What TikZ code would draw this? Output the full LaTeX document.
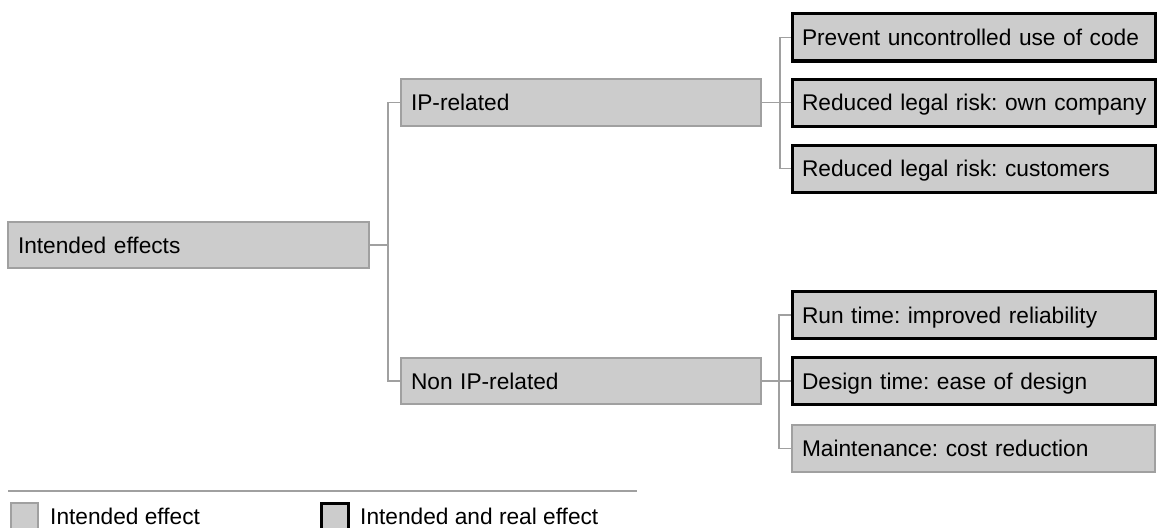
\documentclass[tikz,border=0pt]{standalone}
\usepackage{fontspec}
\setmainfont{Liberation Sans}
\definecolor{boxfill}{HTML}{CCCCCC}
\definecolor{edgegray}{HTML}{A0A0A0}
\begin{document}
\frenchspacing
\begin{tikzpicture}[x=1pt,y=-1pt,
  every node/.style={font=\fontsize{22.7}{27}\selectfont},
  effect/.style={draw=edgegray, line width=1.6pt, fill=boxfill,
    inner xsep=10pt, inner ysep=0pt, text height=16.3pt, text depth=0pt,
    align=left},
  realeffect/.style={effect, draw=black, line width=3pt},
  boxwidth/.style={minimum width=#1, text width=#1-20pt},
  link/.style={draw=edgegray, line width=1.6pt},
  legsq/.style={draw=edgegray, line width=1.6pt, fill=boxfill,
    minimum width=27pt, minimum height=30pt, inner sep=0pt},
  legtext/.style={anchor=base west, inner sep=0pt}]
\useasboundingbox (0,0) rectangle (1158,527);

% root and first level
\node[effect, boxwidth=361pt, minimum height=46pt] (root) at (188.5,245) {\mbox{Intended effects}};
\node[effect, boxwidth=360pt, minimum height=47pt] (ip) at (581,102.5) {\mbox{IP-related}};
\node[effect, boxwidth=360pt, minimum height=46pt] (nonip) at (581,381) {\mbox{Non IP-related}};

% IP-related effects
\node[realeffect, boxwidth=363pt, minimum height=47pt] (c1) at (973.5,37.5) {\mbox{Prevent uncontrolled use of code}};
\node[realeffect, boxwidth=363pt, minimum height=47pt] (c2) at (973.5,102.5) {\mbox{Reduced legal risk: own company}};
\node[realeffect, boxwidth=363pt, minimum height=47pt] (c3) at (973.5,168.5) {\mbox{Reduced legal risk: customers}};

% non IP-related effects
\node[realeffect, boxwidth=363pt, minimum height=47pt] (d1) at (973.5,315) {\mbox{Run time: improved reliability}};
\node[realeffect, boxwidth=363pt, minimum height=47pt] (d2) at (973.5,381) {\mbox{Design time: ease of design}};
\node[effect, boxwidth=363pt, minimum height=47pt] (d3) at (973.5,448.5) {\mbox{Maintenance: cost reduction}};

% junction points of the tree
\coordinate (j1) at (388,245);
\coordinate (j2) at (780,102.5);
\coordinate (j3) at (779,381);

\draw[link] (root.east) -- (j1);
\draw[link] (ip.west) -| (j1) |- (nonip.west);
\draw[link] (ip.east) -- (c2.west);
\draw[link] (c1.west) -| (j2) |- (c3.west);
\draw[link] (nonip.east) -- (d2.west);
\draw[link] (d1.west) -| (j3) |- (d3.west);

% legend
\coordinate (la) at (8,491);
\coordinate (lb) at (637,491);
\draw[link] (la) -- (lb);
\node[legsq, anchor=north west] (lg1) at (10,502) {};
\node[legtext] (lt1) at (50,524.5) {Intended effect};
\node[legsq, draw=black, line width=3pt, anchor=north west] (lg2) at (320,502) {};
\node[legtext] (lt2) at (360,524.5) {Intended and real effect};
\end{tikzpicture}
\end{document}
